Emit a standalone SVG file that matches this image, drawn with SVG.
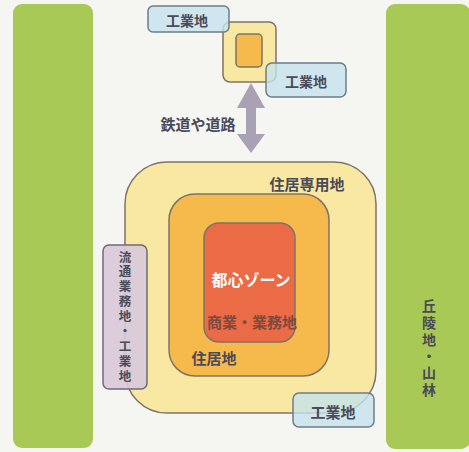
<svg xmlns="http://www.w3.org/2000/svg" width="469" height="452" viewBox="0 0 469 452">
<style>
text{font-family:"Noto Sans CJK JP","Noto Sans",sans-serif;font-weight:700;fill:#4a4a58;text-anchor:middle;dominant-baseline:central}
.green{fill:#a9c957}
.blue{fill:#c6e2ee;fill-opacity:0.8;stroke:#6f7c88;stroke-width:1.5}
.zone{stroke:#7d7468;stroke-width:1.5}
.v{font-size:12.5px}
.r{font-size:14px}
</style>
<rect width="469" height="452" fill="#f5f5f1"/>
<g id="hills-left"><rect class="green" x="13" y="4" width="80" height="444" rx="9"/></g>
<g id="hills-right"><rect class="green" x="386" y="4" width="84" height="445" rx="9"/>
<text class="r"><tspan x="429" y="305">丘</tspan><tspan x="429" y="321.8">陵</tspan><tspan x="429" y="338.6">地</tspan><tspan x="429" y="355.4">・</tspan><tspan x="429" y="372.2">山</tspan><tspan x="429" y="389">林</tspan></text></g>
<g id="residential-only"><rect class="zone" x="125" y="162" width="251" height="251" rx="42" fill="#f8e8a2"/><text x="307" y="183" style="font-size:15px">住居専用地</text></g>
<g id="residential"><rect class="zone" x="169" y="194" width="160" height="182" rx="26" fill="#f6b94c"/><text x="214" y="357" style="font-size:15px">住居地</text></g>
<g id="center"><rect class="zone" x="204" y="223" width="91" height="119" rx="15" fill="#ec6b47"/><text x="251" y="279" style="font-size:16px;fill:#ffffff">都心ゾーン</text><text x="252" y="321" style="font-size:15px;fill:#7a4a40">商業・業務地</text></g>
<g id="distribution"><rect x="103" y="245" width="44" height="144" rx="6" fill="#d9c9da" fill-opacity="0.92" stroke="#6f6a78" stroke-width="1.5"/>
<text class="v"><tspan x="125" y="255.5">流</tspan><tspan x="125" y="270.4">通</tspan><tspan x="125" y="285.3">業</tspan><tspan x="125" y="300.2">務</tspan><tspan x="125" y="315.1">地</tspan><tspan x="125" y="330">・</tspan><tspan x="125" y="344.9">工</tspan><tspan x="125" y="359.8">業</tspan><tspan x="125" y="374.7">地</tspan></text></g>
<g id="industry-bottom"><rect class="blue" x="293" y="393" width="81" height="34" rx="6"/><text x="333" y="411" style="font-size:15px">工業地</text></g>
<g id="satellite"><rect class="zone" x="223" y="22" width="53" height="60" rx="7" fill="#f8e8a2"/><rect class="zone" x="236" y="34" width="26" height="33" rx="4" fill="#f6b94c"/></g>
<g id="industry-top1"><rect class="blue" x="148" y="6" width="81" height="26" rx="5"/><text x="187" y="20" style="font-size:14px">工業地</text></g>
<g id="industry-top2"><rect class="blue" x="266" y="63" width="80" height="34" rx="6"/><text x="306" y="81" style="font-size:14px">工業地</text></g>
<g id="connectors"><path d="M251 83 L265 108 L256 108 L256 134 L265 134 L251 153 L237 134 L246 134 L246 108 L237 108 Z" fill="#a9a1b4"/></g>
<text x="198" y="123" style="font-size:15px">鉄道や道路</text>
</svg>
